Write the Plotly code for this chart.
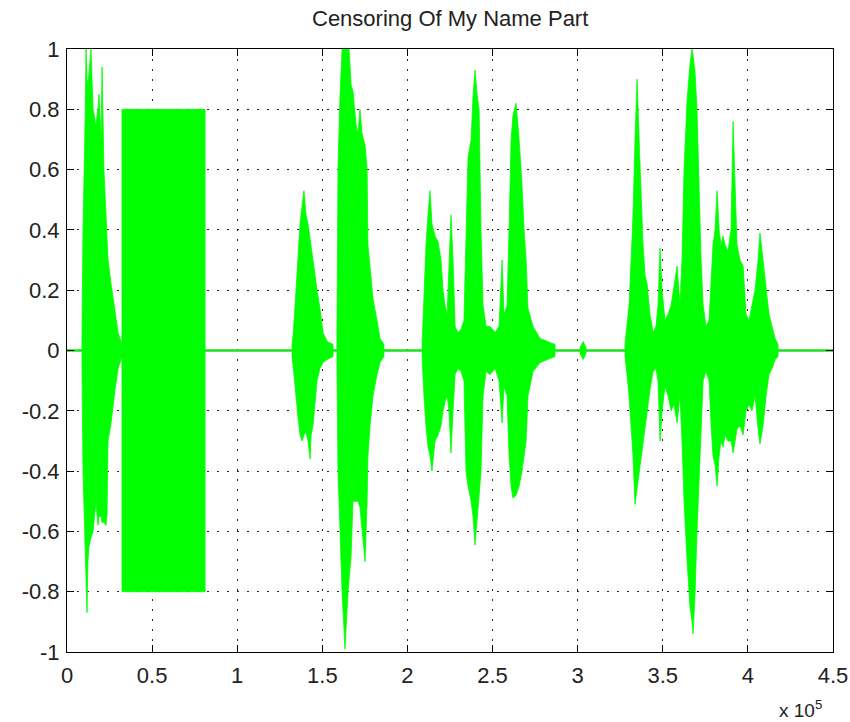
import plotly.graph_objects as go

# ---------------- data (x in samples, amplitude envelopes) ----------------
signal_start = 0
signal_end = 450000

b1_x  = [8800, 9400, 10600, 11200, 11750, 12300, 12900, 14100, 15300, 17000, 18200, 18800, 20000, 20600, 21700, 22900, 23500, 24100, 25900, 28200, 30000, 32300]
b1_up = [0.05, 0.4, 0.75, 1.0, 0.9, 0.88, 0.92, 1.0, 0.8, 0.75, 0.8, 0.85, 0.7, 0.94, 0.6, 0.45, 0.38, 0.3, 0.22, 0.12, 0.06, 0.02]
b1_lo = [-0.05, -0.4, -0.6, -0.75, -0.87, -0.7, -0.65, -0.62, -0.6, -0.5, -0.58, -0.55, -0.55, -0.57, -0.57, -0.58, -0.55, -0.3, -0.24, -0.13, -0.06, -0.02]

censor_start = 32300
censor_end = 81100
censor_amp = 0.8

b2_x  = [132200, 132800, 134000, 134500, 135700, 136900, 138100, 139200, 140400, 141600, 142800, 143400, 144500, 146900, 148600, 150400, 152800, 156300]
b2_up = [0.02, 0.05, 0.15, 0.2, 0.33, 0.42, 0.48, 0.53, 0.45, 0.42, 0.37, 0.34, 0.3, 0.2, 0.14, 0.06, 0.03, 0.02]
b2_lo = [-0.02, -0.05, -0.12, -0.16, -0.22, -0.28, -0.3, -0.28, -0.27, -0.3, -0.36, -0.28, -0.25, -0.1, -0.06, -0.04, -0.03, -0.02]

b3_x  = [158600, 159200, 160400, 161600, 163300, 165100, 165700, 166900, 168000, 169800, 171000, 172100, 173300, 175100, 176300, 176800, 178000, 179800, 182100, 183900, 186200]
b3_up = [0.05, 0.6, 0.85, 1.0, 1.0, 1.0, 1.0, 0.88, 0.86, 0.75, 0.72, 0.8, 0.72, 0.68, 0.6, 0.35, 0.27, 0.17, 0.1, 0.04, 0.02]
b3_lo = [-0.05, -0.4, -0.6, -0.8, -0.99, -0.8, -0.75, -0.68, -0.5, -0.5, -0.5, -0.52, -0.6, -0.7, -0.5, -0.35, -0.25, -0.15, -0.08, -0.04, -0.02]

b4_x  = [208600, 209700, 210900, 212100, 213300, 214400, 216200, 218000, 219700, 220900, 222100, 223300, 224400, 225600, 226800, 228000, 229700, 231500, 233200, 234400, 235600, 237400, 238500, 239700, 240900, 242100, 243200, 244400, 246200, 248500, 251500, 253800, 255600, 256700, 258500, 259700, 260900, 262000, 263800, 265600, 267300, 268500, 269700, 270800, 273800, 277900, 282600, 286700]
b4_up = [0.02, 0.2, 0.35, 0.45, 0.53, 0.42, 0.38, 0.36, 0.3, 0.2, 0.15, 0.12, 0.3, 0.45, 0.3, 0.08, 0.06, 0.07, 0.1, 0.4, 0.64, 0.7, 0.84, 0.93, 0.85, 0.8, 0.4, 0.15, 0.08, 0.08, 0.06, 0.08, 0.3, 0.12, 0.15, 0.4, 0.7, 0.78, 0.82, 0.7, 0.55, 0.4, 0.3, 0.14, 0.08, 0.04, 0.03, 0.02]
b4_lo = [-0.02, -0.15, -0.25, -0.32, -0.35, -0.4, -0.3, -0.28, -0.25, -0.2, -0.17, -0.15, -0.2, -0.34, -0.2, -0.08, -0.06, -0.07, -0.1, -0.4, -0.45, -0.5, -0.55, -0.645, -0.55, -0.48, -0.4, -0.15, -0.07, -0.08, -0.06, -0.1, -0.24, -0.12, -0.15, -0.35, -0.45, -0.49, -0.48, -0.45, -0.4, -0.35, -0.3, -0.15, -0.07, -0.04, -0.03, -0.02]

b5_x  = [301400, 303200, 304900]
b5_up = [0.01, 0.03, 0.01]
b5_lo = [-0.01, -0.03, -0.01]

b6_x  = [327800, 329000, 330200, 331400, 332500, 333700, 334900, 336100, 337200, 338400, 339600, 340800, 342500, 344300, 346000, 347200, 348400, 349600, 351300, 353100, 354900, 356600, 358400, 360100, 361300, 362500, 364300, 366000, 367200, 367800, 369000, 370100, 371300, 372500, 373700, 375400, 377200, 378400, 379500, 380700, 381900, 383100, 384200, 385400, 386600, 388300, 390100, 391300, 392500, 393600, 395400, 397200, 398900, 400700, 402400, 404200, 406000, 407100, 408900, 410700, 412400, 414200, 416000, 417700]
b6_up = [0.02, 0.08, 0.15, 0.3, 0.45, 0.7, 0.9, 0.7, 0.5, 0.35, 0.25, 0.22, 0.12, 0.06, 0.08, 0.15, 0.34, 0.2, 0.1, 0.12, 0.15, 0.22, 0.28, 0.15, 0.3, 0.6, 0.83, 0.95, 1.0, 0.98, 0.92, 0.8, 0.5, 0.3, 0.15, 0.08, 0.1, 0.25, 0.35, 0.4, 0.53, 0.4, 0.35, 0.38, 0.35, 0.33, 0.4, 0.76, 0.5, 0.35, 0.3, 0.28, 0.12, 0.1, 0.15, 0.2, 0.3, 0.39, 0.3, 0.2, 0.12, 0.08, 0.04, 0.02]
b6_lo = [-0.02, -0.08, -0.15, -0.25, -0.35, -0.51, -0.45, -0.4, -0.36, -0.3, -0.25, -0.2, -0.13, -0.07, -0.06, -0.1, -0.3, -0.2, -0.12, -0.15, -0.2, -0.18, -0.24, -0.15, -0.3, -0.5, -0.7, -0.85, -0.9, -0.94, -0.8, -0.6, -0.4, -0.25, -0.1, -0.07, -0.1, -0.25, -0.35, -0.38, -0.45, -0.35, -0.3, -0.32, -0.28, -0.3, -0.3, -0.34, -0.3, -0.26, -0.25, -0.28, -0.2, -0.18, -0.2, -0.15, -0.26, -0.31, -0.25, -0.15, -0.08, -0.06, -0.03, -0.02]

x_tickvals = [0, 50000, 100000, 150000, 200000, 250000, 300000, 350000, 400000, 450000]
x_ticktext = ["0", "0.5", "1", "1.5", "2", "2.5", "3", "3.5", "4", "4.5"]
y_tickvals = [-1, -0.8, -0.6, -0.4, -0.2, 0, 0.2, 0.4, 0.6, 0.8, 1]
y_ticktext = ["-1", "-0.8", "-0.6", "-0.4", "-0.2", "0", "0.2", "0.4", "0.6", "0.8", "1"]

title_text = "Censoring Of My Name Part"
exponent_text = "x 10<sup>5</sup>"

GREEN = "#00ff00"
FONT = "Liberation Sans, Arial, sans-serif"

bursts = [
    (b1_x, b1_up, b1_lo),
    ([censor_start, censor_end], [censor_amp, censor_amp], [-censor_amp, -censor_amp]),
    (b2_x, b2_up, b2_lo),
    (b3_x, b3_up, b3_lo),
    (b4_x, b4_up, b4_lo),
    (b5_x, b5_up, b5_lo),
    (b6_x, b6_up, b6_lo),
]

poly_x, poly_y = [], []
for xs, up, lo in bursts:
    poly_x += list(xs) + list(xs)[::-1] + [xs[0], None]
    poly_y += list(up) + list(lo)[::-1] + [up[0], None]

fig = go.Figure()
fig.add_trace(go.Scatter(
    x=[signal_start, signal_end], y=[0, 0], mode="lines",
    line=dict(color="#22dd22", width=2.5), hoverinfo="skip", showlegend=False))
fig.add_trace(go.Scatter(
    x=poly_x, y=poly_y, mode="lines", fill="toself", fillcolor=GREEN,
    line=dict(color=GREEN, width=0.8), hoverinfo="skip", showlegend=False))

axis_common = dict(
    automargin=False,
    showline=True, linecolor="black", linewidth=1, mirror="ticks",
    ticks="inside", ticklen=7, tickcolor="black", tickwidth=1,
    showgrid=True, gridcolor="rgba(0,0,0,0.85)", gridwidth=1, griddash="2px,8px",
    zeroline=False, tickfont=dict(family=FONT, size=22, color="#222"),
)

fig.update_xaxes(range=[0, 450000], tickmode="array", tickvals=x_tickvals,
                 ticktext=x_ticktext, ticklabelstandoff=4, **axis_common)
fig.update_yaxes(range=[-1, 1], tickmode="array", tickvals=y_tickvals,
                 ticktext=y_ticktext, ticklabelstandoff=2, **axis_common)

fig.update_layout(
    width=850, height=722,
    margin=dict(l=67, r=17, t=49, b=70, autoexpand=False),
    paper_bgcolor="white", plot_bgcolor="white",
    showlegend=False,
    annotations=[
        dict(text=title_text, xref="paper", yref="paper", x=0.5, y=1.0514,
             xanchor="center", yanchor="middle", showarrow=False,
             font=dict(family=FONT, size=22, color="#222")),
        dict(text=exponent_text, xref="paper", yref="paper", x=0.957, y=-0.094,
             xanchor="center", yanchor="middle", showarrow=False,
             font=dict(family=FONT, size=19, color="#222")),
    ],
)

fig.write_html("out.html", config={"displayModeBar": False},
               post_script="document.body.style.margin='0';document.body.style.overflow='hidden';")
